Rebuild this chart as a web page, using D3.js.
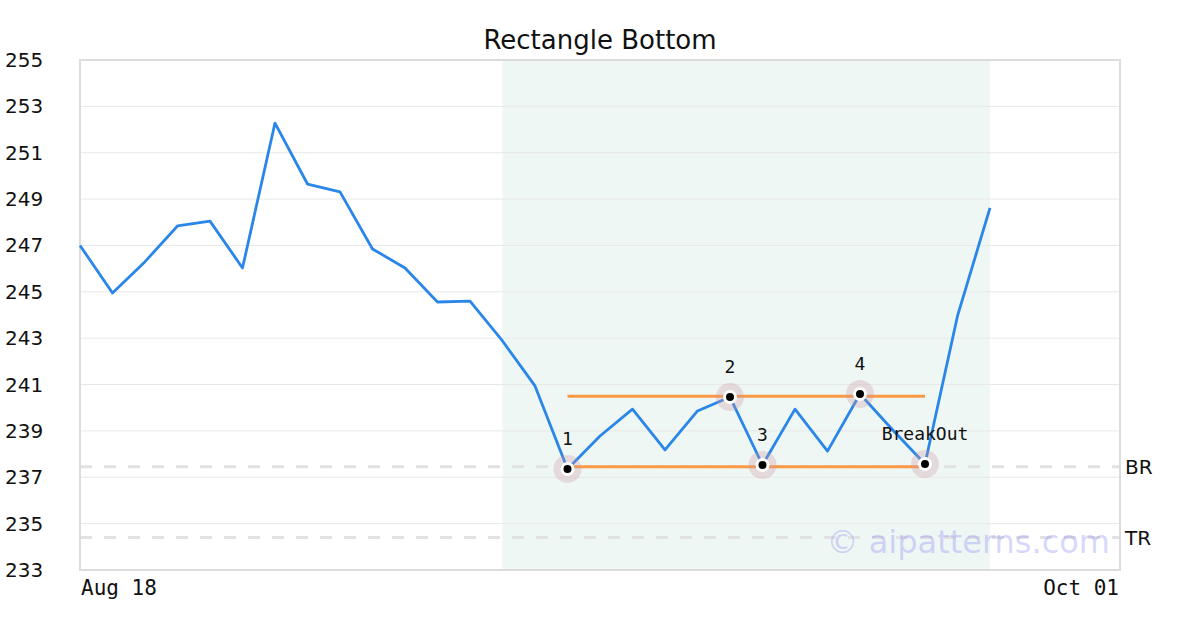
<!DOCTYPE html>
<html lang="en">
<head>
  <meta charset="UTF-8">
  <title>Rectangle Bottom</title>
  <style>
  body { margin: 0; background: #fff; }
  .grid line { stroke: #e8e8e8; stroke-width: 1px; }
  .ylab text { font-family: "DejaVu Sans", sans-serif; font-size: 20px; fill: #111; }
  .xlab text { font-family: "DejaVu Sans Mono", monospace; font-size: 21px; fill: #111; }
  .plabel { font-family: "DejaVu Sans Mono", monospace; font-size: 18px; fill: #111; }
  </style>
</head>
<body>
  <script src="https://d3js.org/d3.v7.min.js"></script>
  <script type="text/javascript">

    // price series, one value per session
    var prices = [247.0, 244.95, 246.3, 247.84, 248.05, 246.03, 252.28, 249.65, 249.31, 246.85,
                  246.03, 244.56, 244.6, 242.88, 240.94, 237.36, 238.78, 239.94, 238.18, 239.86,
                  240.46, 237.53, 239.94, 238.13, 240.59, 239.05, 237.57, 243.96, 248.62];
    var xSlots = 32;                 // last index of the x domain
    var xTickIdx = [0, 32];
    var xTickLabels = ["Aug 18", "Oct 01"];
    var yTicks = [233, 235, 237, 239, 241, 243, 245, 247, 249, 251, 253, 255];
    var zoneRange = [13, 28];        // shaded pattern zone
    var pivotIdx = [15, 20, 21, 24, 26];
    var pivotLabels = ["1", "2", "3", "4", "BreakOut"];
    var topLine = {from: 15, to: 26, value: 240.5};
    var bottomLine = {from: 15, to: 26, value: 237.45};
    var refLines = [{name: "BR", value: 237.45}, {name: "TR", value: 234.4}];

    var width = 1200, height = 630;
    var mLeft = 80, mRight = 1120, mTop = 60, mBottom = 570;

    var svg = d3.select("body").append("svg")
        .attr("width", width)
        .attr("height", height);

    var x = d3.scaleLinear().domain([0, xSlots]).range([mLeft, mRight]);
    var y = d3.scaleLinear().domain([233, 255]).range([mBottom, mTop]);

    // shaded zone
    svg.append("rect")
        .attr("x", x(zoneRange[0]))
        .attr("y", mTop)
        .attr("width", x(zoneRange[1]) - x(zoneRange[0]))
        .attr("height", mBottom - mTop)
        .attr("fill", "#eef7f3");

    // gridlines
    svg.append("g").attr("class", "grid")
      .selectAll("line").data(yTicks.slice(1, -1)).enter().append("line")
        .attr("x1", mLeft).attr("x2", mRight)
        .attr("y1", function(d){ return y(d); })
        .attr("y2", function(d){ return y(d); });

    // dashed reference lines
    svg.append("g").selectAll("line").data(refLines).enter().append("line")
        .attr("x1", mLeft).attr("x2", mRight)
        .attr("y1", function(d){ return y(d.value); })
        .attr("y2", function(d){ return y(d.value); })
        .attr("stroke", "#e2e2e2")
        .attr("stroke-width", 3)
        .attr("stroke-dasharray", "12,12");

    svg.append("g").selectAll("text").data(refLines).enter().append("text")
        .attr("x", mRight + 5)
        .attr("y", function(d){ return y(d.value) + 7; })
        .style("font-family", "DejaVu Sans, sans-serif")
        .style("font-size", "20px")
        .attr("fill", "#111")
        .text(function(d){ return d.name; });

    // plot frame
    svg.append("rect")
        .attr("x", mLeft).attr("y", mTop)
        .attr("width", mRight - mLeft).attr("height", mBottom - mTop)
        .attr("fill", "none")
        .attr("stroke", "#dcdcdc")
        .attr("stroke-width", 2);

    // y labels
    svg.append("g").attr("class", "ylab")
      .selectAll("text").data(yTicks).enter().append("text")
        .attr("x", 5)
        .attr("y", function(d){ return y(d) + 7; })
        .text(function(d){ return d; });

    // x labels
    svg.append("g").attr("class", "xlab")
      .selectAll("text").data(xTickIdx).enter().append("text")
        .attr("x", function(d){ return x(d); })
        .attr("y", 595)
        .attr("text-anchor", function(d, i){ return i === 0 ? "start" : "end"; })
        .attr("dx", function(d, i){ return i === 0 ? 1 : -1; })
        .text(function(d, i){ return xTickLabels[i]; });

    // rectangle top / bottom
    [topLine, bottomLine].forEach(function(l){
      svg.append("line")
          .attr("x1", x(l.from)).attr("x2", x(l.to))
          .attr("y1", y(l.value)).attr("y2", y(l.value))
          .attr("stroke", "#fb9a45")
          .attr("stroke-width", 3);
    });

    // price line
    var line = d3.line()
        .x(function(d, i){ return x(i); })
        .y(function(d){ return y(d); });

    svg.append("path")
        .datum(prices)
        .attr("d", line)
        .attr("fill", "none")
        .attr("stroke", "#2a86e8")
        .attr("stroke-width", 2.8)
        .attr("stroke-linejoin", "round");

    // pivot markers
    var piv = svg.append("g").selectAll("g").data(pivotIdx).enter().append("g");
    piv.append("circle")
        .attr("cx", function(d){ return x(d); })
        .attr("cy", function(d){ return y(prices[d]); })
        .attr("r", 14)
        .attr("fill", "rgba(205,150,165,0.3)");
    piv.append("circle")
        .attr("cx", function(d){ return x(d); })
        .attr("cy", function(d){ return y(prices[d]); })
        .attr("r", 5.5)
        .attr("fill", "#000")
        .attr("stroke", "#fff")
        .attr("stroke-width", 3);
    piv.append("text")
        .attr("class", "plabel")
        .attr("x", function(d){ return x(d); })
        .attr("y", function(d){ return y(prices[d]) - 24; })
        .attr("text-anchor", "middle")
        .text(function(d, i){ return pivotLabels[i]; });

    // title
    svg.append("text")
        .attr("x", 600).attr("y", 49)
        .attr("text-anchor", "middle")
        .style("font-family", "DejaVu Sans, sans-serif")
        .style("font-size", "26px")
        .attr("fill", "#111")
        .text("Rectangle Bottom");

    // watermark
    svg.append("text")
        .attr("x", 1110).attr("y", 553)
        .attr("text-anchor", "end")
        .style("font-family", "DejaVu Sans, sans-serif")
        .style("font-size", "32px")
        .attr("fill", "rgba(140,140,245,0.35)")
        .text("\u00a9 aipatterns.com");
  </script>
</body>
</html>
